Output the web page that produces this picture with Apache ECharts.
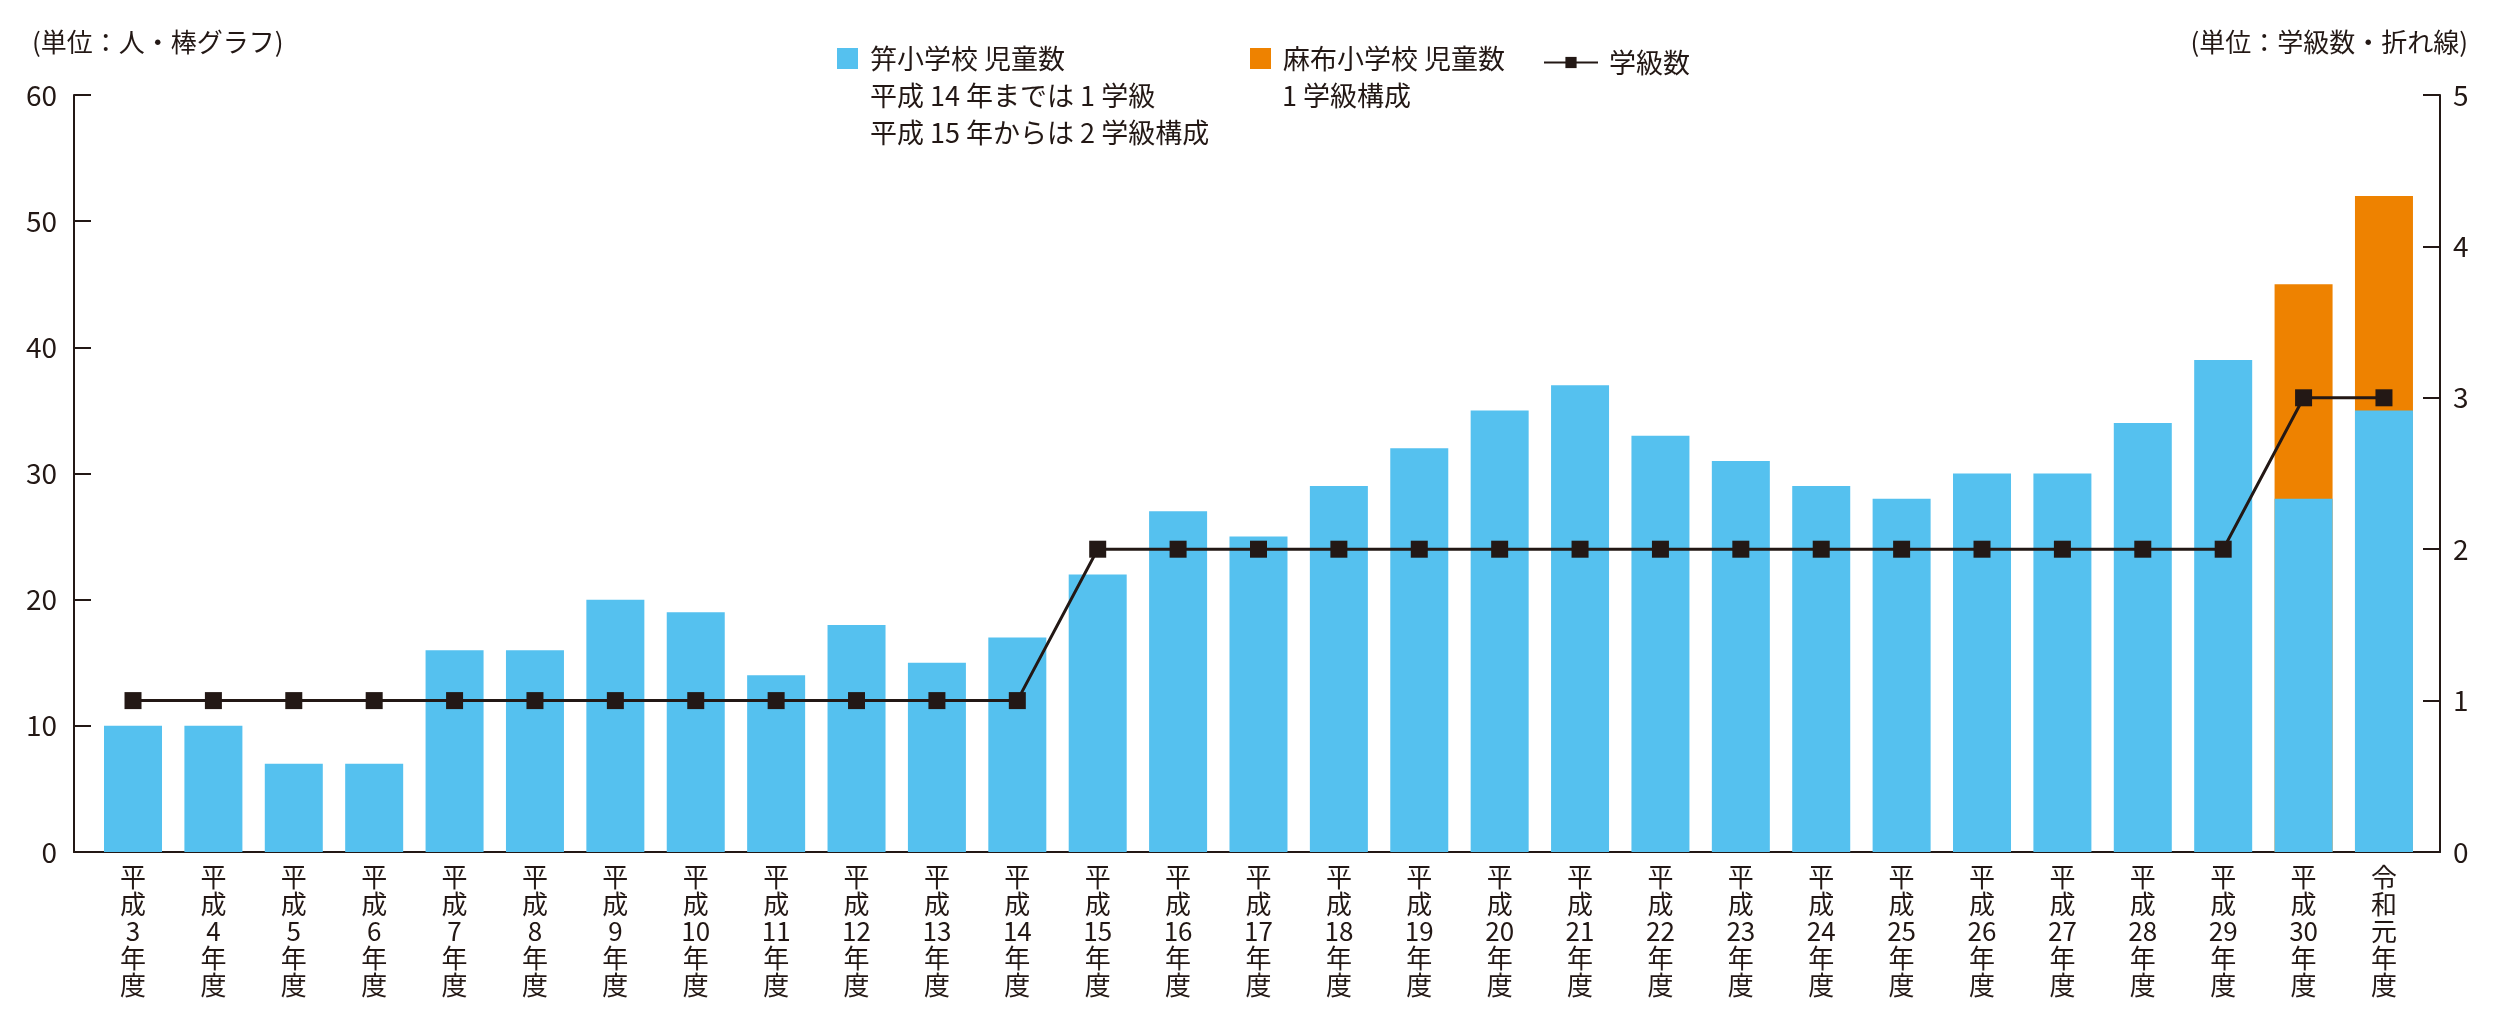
<!DOCTYPE html>
<html>
<head>
<meta charset="utf-8">
<script src="https://cdn.jsdelivr.net/npm/echarts@6/dist/echarts.min.js"></script>
<style>
html,body{margin:0;padding:0;background:#fff;}
#chart{width:2500px;height:1028px;}
</style>
</head>
<body>
<div id="chart"></div>
<script>
// ---- data ----
const categories = ['平成3年度','平成4年度','平成5年度','平成6年度','平成7年度','平成8年度','平成9年度','平成10年度','平成11年度','平成12年度','平成13年度','平成14年度','平成15年度','平成16年度','平成17年度','平成18年度','平成19年度','平成20年度','平成21年度','平成22年度','平成23年度','平成24年度','平成25年度','平成26年度','平成27年度','平成28年度','平成29年度','平成30年度','令和元年度'];
const kougaiChildren = [10,10,7,7,16,16,20,19,14,18,15,17,22,27,25,29,32,35,37,33,31,29,28,30,30,34,39,28,35];
const azabuChildren = [null,null,null,null,null,null,null,null,null,null,null,null,null,null,null,null,null,null,null,null,null,null,null,null,null,null,null,17,17];
const classCount = [1,1,1,1,1,1,1,1,1,1,1,1,2,2,2,2,2,2,2,2,2,2,2,2,2,2,2,3,3];
const leftTicks = {min:0, max:60, interval:10};
const rightTicks = {min:0, max:5, interval:1};

const INK = '#231815';
const FONT = "'Liberation Sans Narrow','Noto Sans CJK JP',sans-serif";
const CJK = "'Noto Sans CJK JP',sans-serif";

const blueData = kougaiChildren.map((v,i)=>[i,v]);
const orangeData = [];
azabuChildren.forEach((v,i)=>{ if(v!=null) orangeData.push([i, v + kougaiChildren[i]]); });
const lineData = classCount.map((v,i)=>[i,v]);
const idx = categories.map((c,i)=>i);

const legendText = {color:INK, fontSize:27, fontFamily:CJK, lineHeight:21, padding:[0,0,0,7]};

const chart = echarts.init(document.getElementById('chart'));
chart.setOption({
  animation:false,
  backgroundColor:'#fff',
  grid:{left:74, right:60, top:95, bottom:176, containLabel:false},
  legend:[
    {data:[{name:'笄小学校 児童数', icon:'rect'}], left:837, top:45, padding:0, itemWidth:21, itemHeight:21, selectedMode:false,
     textStyle:legendText},
    {data:[{name:'麻布小学校 児童数', icon:'rect'}], left:1250, top:45, padding:0, itemWidth:21, itemHeight:21, selectedMode:false,
     textStyle:legendText},
    {data:['学級数'], left:1543, top:49, padding:0, itemWidth:54, itemHeight:14, selectedMode:false,
     textStyle:{color:INK, fontSize:27, fontFamily:CJK, lineHeight:14, padding:[0,0,0,6]}}
  ],
  xAxis:{
    type:'value', min:-0.734, max:28.697,
    axisLine:{show:true, onZero:false, lineStyle:{color:INK, width:2}},
    axisTick:{show:false},
    splitLine:{show:false},
    axisLabel:{
      customValues: idx,
      margin:12,
      color:INK, fontSize:26, lineHeight:27, fontFamily:CJK,
      formatter:function(v){ const c = categories[Math.round(v)]; return c ? c.match(/\d+|./g).join('\n') : ''; }
    }
  },
  yAxis:[
    {type:'value', min:leftTicks.min, max:leftTicks.max, interval:leftTicks.interval, position:'left',
     axisLine:{show:true, onZero:false, lineStyle:{color:INK, width:2}},
     axisTick:{show:true, inside:true, length:17, lineStyle:{color:INK, width:2}},
     splitLine:{show:false},
     axisLabel:{margin:17, color:INK, fontSize:28, fontFamily:FONT}},
    {type:'value', min:rightTicks.min, max:rightTicks.max, interval:rightTicks.interval, position:'right',
     axisLine:{show:true, onZero:false, lineStyle:{color:INK, width:2}},
     axisTick:{show:true, inside:true, length:17, lineStyle:{color:INK, width:2}},
     splitLine:{show:false},
     axisLabel:{margin:13, color:INK, fontSize:28, fontFamily:FONT}}
  ],
  series:[
    {name:'麻布小学校 児童数', type:'bar', data:orangeData, barWidth:58, barGap:'-100%',
     itemStyle:{color:'#EE8200'}},
    {name:'笄小学校 児童数', type:'bar', data:blueData, barWidth:58, barGap:'-100%',
     itemStyle:{color:'#55C1EF'}},
    {name:'学級数', type:'line', yAxisIndex:1, data:lineData, symbol:'rect', symbolSize:17,
     lineStyle:{color:INK, width:3}, itemStyle:{color:INK}, z:5}
  ],
  graphic:[
    {type:'text', x:32, y:42, style:{text:'(単位：人・棒グラフ)', fill:INK, font:"26px "+CJK, verticalAlign:'middle', align:'left'}},
    {type:'text', x:2468, y:42, style:{text:'(単位：学級数・折れ線)', fill:INK, font:"26px "+CJK, verticalAlign:'middle', align:'right'}},
    {type:'text', x:870, y:77, style:{text:'平成 14 年までは 1 学級\n平成 15 年からは 2 学級構成', fill:INK, font:"27px "+CJK, lineHeight:37, verticalAlign:'top', align:'left'}},
    {type:'text', x:1282, y:77, style:{text:'1 学級構成', fill:INK, font:"27px "+CJK, lineHeight:37, verticalAlign:'top', align:'left'}}
  ]
});
</script>
</body>
</html>
